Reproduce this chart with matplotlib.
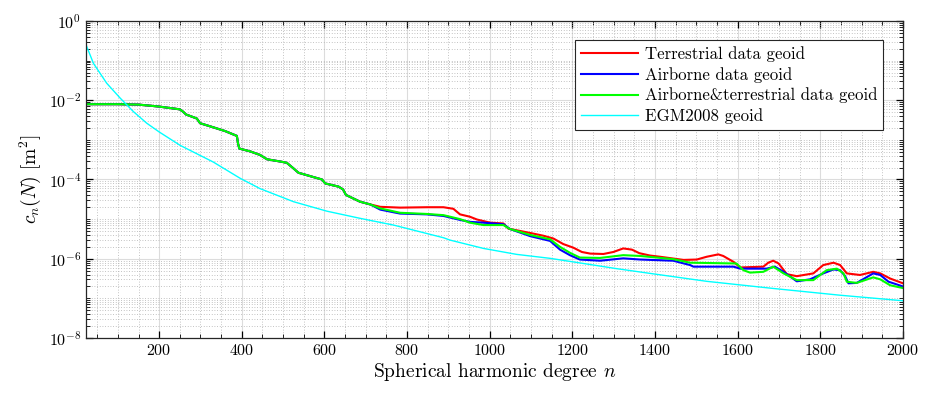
import numpy as np
import matplotlib
matplotlib.use('Agg')
import matplotlib.pyplot as plt
from matplotlib.ticker import MultipleLocator, LogLocator, NullFormatter

plt.rcParams['font.family'] = 'serif'
plt.rcParams['font.serif'] = ['cmr10', 'DejaVu Serif']
plt.rcParams['mathtext.fontset'] = 'cm'
plt.rcParams['axes.formatter.use_mathtext'] = True

# degree-variance curves as log10 values
# part shared by the three regional geoids (they overlap up to n ~ 710)
n_common = [23, 100, 150, 200, 250, 258, 265, 291, 299, 330, 360, 388, 391, 394,
            420, 444, 461, 495, 509, 525, 537, 577, 594, 602, 634, 645, 652, 686, 711]
log_common = [-2.10, -2.10, -2.11, -2.16, -2.23, -2.29, -2.36, -2.46, -2.58, -2.68,
              -2.78, -2.90, -3.10, -3.22, -3.29, -3.38, -3.49, -3.55, -3.58, -3.72,
              -3.83, -3.95, -4.00, -4.10, -4.18, -4.25, -4.39, -4.56, -4.63]

n_terr = [735, 783, 848, 888, 912, 928, 952, 969, 1001, 1033, 1045, 1098, 1130, 1154,
          1178, 1202, 1223, 1243, 1275, 1299, 1323, 1344, 1362, 1388, 1412, 1469, 1501,
          1525, 1553, 1565, 1590, 1606, 1662, 1674, 1686, 1699, 1719, 1743, 1783, 1807,
          1832, 1848, 1864, 1896, 1928, 1945, 1969, 2000]
log_terr = [-4.69, -4.71, -4.70, -4.70, -4.74, -4.88, -4.94, -5.01, -5.09, -5.11, -5.24,
            -5.35, -5.42, -5.49, -5.63, -5.72, -5.83, -5.87, -5.88, -5.83, -5.74, -5.77,
            -5.86, -5.92, -5.95, -6.03, -6.02, -5.95, -5.89, -5.93, -6.08, -6.22, -6.20,
            -6.10, -6.05, -6.12, -6.39, -6.44, -6.37, -6.16, -6.10, -6.16, -6.37, -6.41,
            -6.33, -6.37, -6.50, -6.62]

n_air = [735, 783, 848, 888, 928, 952, 985, 1033, 1049, 1098, 1146, 1170, 1194, 1218,
         1267, 1323, 1364, 1444, 1485, 1493, 1590, 1606, 1670, 1690, 1711, 1743, 1775,
         1807, 1832, 1848, 1860, 1868, 1888, 1928, 1945, 1965, 2000]
log_air = [-4.76, -4.86, -4.88, -4.92, -5.02, -5.07, -5.09, -5.13, -5.25, -5.43, -5.55,
           -5.77, -5.91, -6.02, -6.05, -5.99, -6.02, -6.05, -6.16, -6.20, -6.20, -6.25,
           -6.25, -6.20, -6.33, -6.57, -6.52, -6.37, -6.27, -6.29, -6.44, -6.62, -6.61,
           -6.37, -6.41, -6.58, -6.70]

n_both = [735, 783, 848, 888, 928, 952, 985, 1033, 1049, 1098, 1146, 1170, 1194, 1218,
          1267, 1323, 1364, 1444, 1485, 1597, 1614, 1630, 1662, 1686, 1711, 1743, 1783,
          1815, 1840, 1856, 1864, 1888, 1928, 1945, 1969, 2000]
log_both = [-4.73, -4.84, -4.87, -4.90, -5.00, -5.09, -5.15, -5.15, -5.25, -5.40, -5.51,
            -5.70, -5.85, -5.97, -5.98, -5.91, -5.93, -6.01, -6.10, -6.12, -6.29, -6.35,
            -6.33, -6.20, -6.37, -6.54, -6.54, -6.29, -6.25, -6.37, -6.58, -6.61, -6.47,
            -6.52, -6.67, -6.74]

n_egm = [23, 41, 73, 106, 138, 170, 200, 251, 331, 396, 444, 525, 606, 686, 767, 888,
         904, 985, 1065, 1146, 1227, 1307, 1388, 1525, 1686, 1847, 2000]
log_egm = [-0.60, -1.07, -1.57, -1.95, -2.29, -2.58, -2.80, -3.14, -3.56, -3.97, -4.23,
           -4.56, -4.80, -4.98, -5.15, -5.47, -5.53, -5.74, -5.89, -5.99, -6.12, -6.25,
           -6.37, -6.57, -6.75, -6.92, -7.06]

labels = ['Terrestrial data geoid', 'Airborne data geoid',
          'Airborne&terrestrial data geoid', 'EGM2008 geoid']


def series(n_tail, log_tail):
    n = np.array(n_common + n_tail)
    return n, 10.0 ** np.array(log_common + log_tail)


fig = plt.figure(figsize=(9.34, 3.96), dpi=100)
ax = fig.add_axes([0.0921, 0.1465, 0.8747, 0.8005])

n, v = series(n_terr, log_terr)
ax.plot(n, v, color='#ff0000', lw=1.5, label=labels[0])
n, v = series(n_air, log_air)
ax.plot(n, v, color='#0000ff', lw=1.5, label=labels[1])
n, v = series(n_both, log_both)
ax.plot(n, v, color='#00ff00', lw=1.5, label=labels[2])
ax.plot(n_egm, 10.0 ** np.array(log_egm), color='#00ffff', lw=1.0, label=labels[3])

ax.set_yscale('log')
ax.set_xlim(23, 2000)
ax.set_ylim(1e-8, 1)
ax.set_xticks(np.arange(200, 2001, 200))
ax.xaxis.set_minor_locator(MultipleLocator(50))
ax.set_yticks([1e0, 1e-2, 1e-4, 1e-6, 1e-8])
ax.yaxis.set_minor_locator(LogLocator(base=10, subs=np.arange(1, 10), numticks=50))
ax.yaxis.set_minor_formatter(NullFormatter())

ax.grid(True, which='major', color='#dcdcdc', lw=0.8, ls='-')
ax.grid(True, which='minor', color='#b0b0b0', lw=0.6, ls=(0, (1, 2.2)))
ax.set_axisbelow(True)

ax.tick_params(which='both', direction='in', top=True, right=True, labelsize=11.5)
ax.tick_params(which='major', length=5, width=0.9)
ax.tick_params(which='minor', length=3, width=0.6)
for s in ax.spines.values():
    s.set_linewidth(0.9)
    s.set_color('#262626')

ax.set_xlabel('Spherical harmonic degree $n$', fontsize=14, labelpad=2)
ax.set_ylabel(r'$c_n(N)\ [\mathrm{m}^2]$', fontsize=14, labelpad=4)

leg = ax.legend(loc='upper right', bbox_to_anchor=(0.9755, 0.94), borderaxespad=0,
                fontsize=12.1, handlelength=3.4, labelspacing=0.3, borderpad=0.35,
                handletextpad=0.4, fancybox=False, framealpha=1)
leg.get_frame().set_edgecolor('#262626')
leg.get_frame().set_linewidth(0.8)

fig.savefig('out.png', dpi=100)
